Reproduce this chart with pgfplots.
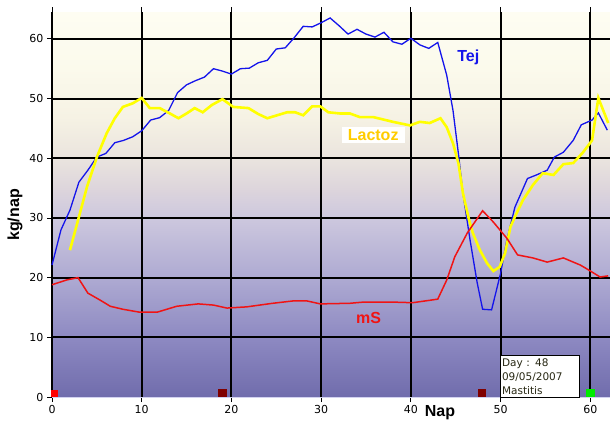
\documentclass[border=0pt]{standalone}
\usepackage{fontspec}
\setmainfont{Liberation Sans}
\newfontfamily\tickfont{DejaVu Sans}
\usepackage{pgfplots}
\pgfplotsset{compat=1.18}

\definecolor{bgA}{RGB}{112,108,172}
\definecolor{bgB}{RGB}{142,138,194}
\definecolor{bgC}{RGB}{174,170,210}
\definecolor{bgD}{RGB}{205,200,222}
\definecolor{bgD2}{RGB}{221,213,220}
\definecolor{bgE}{RGB}{234,228,222}
\definecolor{bgF}{RGB}{246,242,228}
\definecolor{bgG}{RGB}{251,250,236}
\definecolor{bgH}{RGB}{254,253,242}
\pgfdeclareverticalshading{chartbg}{100bp}{color(0bp)=(bgA); color(25bp)=(bgA); color(32.8bp)=(bgB); color(40.5bp)=(bgC); color(48.3bp)=(bgD); color(52.1bp)=(bgD2); color(56bp)=(bgE); color(61.4bp)=(bgF); color(67.6bp)=(bgG); color(75bp)=(bgH); color(100bp)=(bgH)}

\definecolor{tejblue}{RGB}{20,20,235}
\definecolor{lacyel}{RGB}{255,255,0}
\definecolor{lactxt}{RGB}{255,204,0}
\definecolor{msred}{RGB}{240,20,20}
\definecolor{darkred}{RGB}{128,0,0}
\definecolor{mkgreen}{RGB}{0,235,0}
\definecolor{lav}{RGB}{210,210,240}

\pgfplotstableread{
x y
0 22.1
1 28
2 31.3
3 36
4 38
5 40.2
6 40.8
7 42.6
8 43
9 43.6
10 44.6
11 46.4
12 46.8
13 48
14 51
15 52.3
16 53
17 53.6
18 55
19 54.6
20 54.1
21 55
22 55.1
23 56
24 56.4
25 58.3
26 58.5
27 60.2
28 62.1
29 62
30 62.7
31 63.5
32 62.2
33 60.8
34 61.6
35 60.8
36 60.3
37 61.1
38 59.5
39 59.1
40 60.1
41 59
42 58.4
43 59.4
44 53.9
44.7 48
45.3 40.8
45.8 34.2
46.6 26.3
47.4 19.1
48 14.7
49 14.6
50 20.7
50.7 26.3
51.6 31.8
53 36.6
54 37.2
55.2 38
56 40.2
57 41
58.1 43
59 45.6
60.2 46.4
60.9 47.6
61.9 44.7
}\tej

\pgfplotstableread{
x y
2 24.6
2.9 29.6
3.9 35.2
5 40.2
6.1 44.2
7 46.7
7.9 48.6
9 49.2
10 50.1
10.9 48.4
12 48.4
12.9 47.7
14.1 46.7
15 47.5
15.9 48.4
16.8 47.7
17.8 48.9
19 49.9
20.2 48.6
21.9 48.4
23 47.4
24 46.7
25.1 47.2
26.2 47.7
27.1 47.7
28 47.2
29 48.7
29.9 48.7
30.8 47.7
32.1 47.5
33.2 47.5
34.3 46.9
35.8 46.9
36.9 46.5
38 46.1
39.9 45.5
41 46.1
42.1 45.9
43.3 46.7
44 45.2
44.7 42.5
45.3 39.2
45.8 34.2
46.4 30.2
46.9 27.5
47.7 24.6
48.5 22.4
49.2 21.1
49.9 21.8
50.5 24.1
51.1 28.5
51.6 30.2
52.5 33
53.6 35.5
54.7 37.5
55.9 37.2
57 39
58.1 39.2
59.2 41
60.2 43
60.9 50.1
62 45.9
}\lactoz

\pgfplotstableread{
x y
0 18.8
1.6 19.6
2.9 20
4 17.4
5.4 16.2
6.5 15.2
7.9 14.7
9.8 14.2
11.7 14.2
13.9 15.2
16.3 15.6
18 15.4
19.5 14.9
21.7 15.1
24.6 15.7
26.9 16.1
28.4 16.1
29.9 15.6
33.2 15.7
34.7 15.9
38 15.9
40.2 15.8
42.1 16.2
43 16.4
44 19.6
44.9 23.5
46.3 27.5
48 31.2
49.2 29.3
50.7 26.6
51.9 23.8
53.6 23.3
55.2 22.6
57 23.3
58.9 22.1
59.8 21.3
61.1 20.1
62 20.3
}\ms

\begin{document}
\begin{tikzpicture}
\begin{axis}[
  scale only axis, width=558pt, height=385pt,
  xmin=0, xmax=62.2, ymin=0, ymax=64.5,
  axis line style={draw=none},
  axis background/.style={shading=chartbg},
  xtick={0,10,...,60}, ytick={10,20,...,60},
  extra y ticks={0}, extra y tick style={grid=none},
  grid=major, major grid style={black, line width=2pt},
  tick align=outside, major tick length=5pt,
  tick style={black, line width=0.8pt},
  ticklabel style={font=\tickfont\fontsize{11}{13}\selectfont},
  /pgf/number format/assume math mode=true,
  clip=false,
]
\draw[lav, line width=1pt] (axis cs:0,0) -- (axis cs:62.2,0);
\addplot[tejblue, line width=1.3pt, no marks] table {\tej};
\addplot[lacyel, line width=2.6pt, no marks] table {\lactoz};
\addplot[msred, line width=1.5pt, no marks] table {\ms};
\addplot[only marks, mark=square*, mark size=3pt, red, mark options={draw=red, fill=red}] coordinates {(0.3,0.7)};
\addplot[only marks, mark=square*, mark size=3.8pt, mark options={draw=darkred, fill=darkred}] coordinates {(18.95,0.7) (47.9,0.7)};
\addplot[only marks, mark=square*, mark size=3.8pt, mark options={draw=mkgreen, fill=mkgreen}] coordinates {(60,0.7)};
\node[font=\bfseries\fontsize{16}{18}\selectfont, text=tejblue] at (axis cs:46.4,56.9) {Tej};
\node[font=\bfseries\fontsize{16}{18}\selectfont, text=lactxt, fill=white, inner xsep=6pt, inner ysep=2pt] at (axis cs:35.8,43.9) {Lactoz};
\node[font=\bfseries\fontsize{16}{18}\selectfont, text=msred] at (axis cs:35.3,13.2) {mS};
\node[anchor=north west, draw=black, line width=0.8pt, fill=white, align=left, inner xsep=2pt, inner ysep=3pt, text width=75pt, font=\tickfont\fontsize{10.5}{14}\selectfont, text={rgb,255:red,40;green,40;blue,20}] at (axis cs:49.9,7.0) {Day : 48\\09/05/2007\\Mastitis};
\node[font=\bfseries\fontsize{16}{18}\selectfont] at (axis cs:43.25,0) [yshift=-16pt] {Nap};
\coordinate (YL) at (axis cs:0,30.5);
\coordinate (O) at (axis cs:0,0);
\end{axis}
\node[font=\bfseries\fontsize{16}{18}\selectfont, rotate=90] at ([xshift=-37pt]YL) {kg/nap};
\pgfresetboundingbox
\path (O) ++(-52pt,-27pt) rectangle ++(610pt,424pt);
\end{tikzpicture}
\end{document}
